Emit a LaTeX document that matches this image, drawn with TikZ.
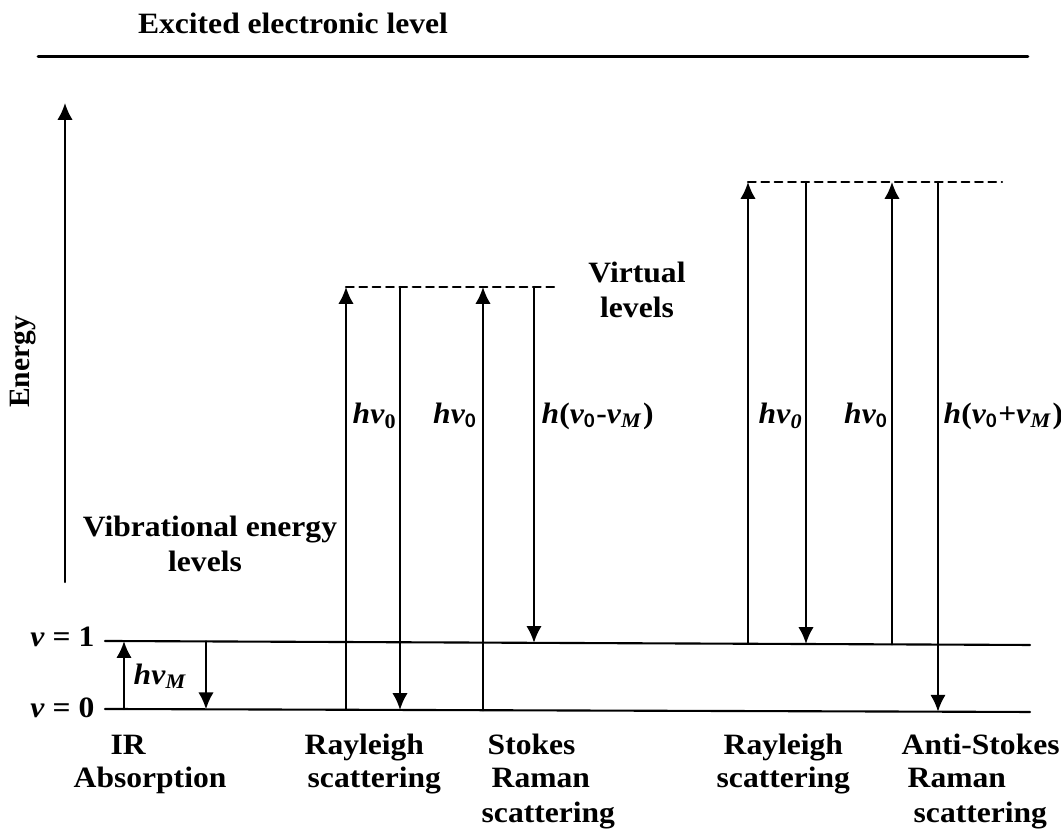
\documentclass[tikz,border=0pt]{standalone}
\usepackage{fontspec}
\setmainfont{Liberation Serif}[FakeStretch=1.07]
\newfontfamily\plainserif{Liberation Serif}
\newfontfamily\zerofont{Carlito}
\usepackage{tikz}
\usetikzlibrary{arrows.meta}
\usepackage{tkz-euclide}

\newcommand{\zsub}{\textsubscript{\zerofont\bfseries 0}}
\newcommand{\hv}{\textit{hv}}

\tikzset{
  vlevel/.style={line width=0.6pt},
  photon/.style={line width=0.65pt, -{Latex[length=4.8pt,width=4.4pt]}},
  virtual/.style={line width=0.6pt, dash pattern=on 2.2pt off 1.6pt},
  lbl/.style={font=\fontsize{8.4}{9.96}\selectfont\bfseries, inner sep=0pt},
}

\begin{document}
\begin{tikzpicture}
                \useasboundingbox (0,0) rectangle (10.61,8.32);
                \tkzDefPoints{0.38/7.75/T_a, 10.28/7.75/T_b, 0.65/2.50/E_a, 0.65/7.29/E_b}
                \tkzDefPoints{1.05/1.91/U_a, 10.30/1.87/U_b, 1.05/1.23/Z_a, 10.30/1.20/Z_b}
                \tkzDefPoints{3.46/5.45/V_a, 5.55/5.45/V_b, 7.48/6.50/W_a, 10.02/6.50/W_b}
                \tkzDefPoints{1.24/1.229/IR_a, 1.24/1.909/IR_b, 2.06/1.906/IR_c, 2.06/1.227/IR_d}
                \tkzDefPoints{3.46/1.222/RL_a, 4.00/5.45/RL_c, 4.00/1.220/RL_d}
                \tkzDefPoints{4.83/1.218/SR_a, 4.83/5.45/SR_b, 5.34/5.45/SR_c, 5.34/1.891/SR_d}
                \tkzDefPoints{7.48/1.882/RR_a, 8.06/6.50/RR_c, 8.06/1.880/RR_d}
                \tkzDefPoints{8.92/1.876/AS_a, 8.92/6.50/AS_b, 9.38/6.50/AS_c, 9.38/1.203/AS_d}
                \tkzDrawSegments[line width=0.85pt](T_a,T_b)
                \tkzDrawSegments[vlevel](U_a,U_b Z_a,Z_b)
                \tkzDrawSegments[virtual](V_a,V_b W_a,W_b)
                \tkzDrawSegments[photon](E_a,E_b IR_a,IR_b IR_c,IR_d RL_a,V_a RL_c,RL_d)
                \tkzDrawSegments[photon](SR_a,SR_b SR_c,SR_d RR_a,W_a RR_c,RR_d AS_a,AS_b AS_c,AS_d)
                \node[lbl, anchor=base] (title) at (2.93,7.98) {Excited electronic level};
                \node[lbl, rotate=90, font=\fontsize{8.4}{9.96}\plainserif\bfseries] (energy) at (0.23,4.70) {Energy};
                \node[lbl, anchor=base] (virt_a) at (6.37,5.49) {Virtual};
                \node[lbl, anchor=base] (virt_b) at (6.37,5.14) {levels};
                \node[lbl, anchor=base] (vib_a) at (2.10,2.95) {Vibrational energy};
                \node[lbl, anchor=base] (vib_b) at (2.05,2.60) {levels};
                \node[lbl, anchor=east] (vone) at (0.95,1.95) {\textit{v} = 1};
                \node[lbl, anchor=east] (vzero) at (0.95,1.24) {\textit{v} = 0};
                \node[lbl, anchor=west] (hvm) at (1.33,1.56) {\hv\textsubscript{\textit{M}}};
                \node[lbl, anchor=base west] (hvz_a) at (3.52,4.08) {\hv\textsubscript{0}};
                \node[lbl, anchor=base east] (hvz_b) at (4.78,4.08) {\hv\zsub};
                \node[lbl, anchor=base west] (stokes) at (5.41,4.08) {\textit{h}(\textit{v}\zsub-\textit{v}\textsubscript{\textit{M}})};
                \node[lbl, anchor=base west] (hvz_c) at (7.58,4.08) {\hv\textsubscript{\textit{0}}};
                \node[lbl, anchor=base east] (hvz_d) at (8.89,4.08) {\hv\zsub};
                \node[lbl, anchor=base west] (anti) at (9.43,4.08) {\textit{h}(\textit{v}\zsub+\textit{v}\textsubscript{\textit{M}})};
                \node[lbl, anchor=base west] (ir_a) at (1.10,0.77) {IR};
                \node[lbl, anchor=base west] (ir_b) at (0.73,0.44) {Absorption};
                \node[lbl, anchor=base west] (rl_a) at (3.04,0.77) {Rayleigh};
                \node[lbl, anchor=base west] (rl_b) at (3.07,0.44) {scattering};
                \node[lbl, anchor=base west] (sr_a) at (4.87,0.77) {Stokes};
                \node[lbl, anchor=base west] (sr_b) at (4.91,0.44) {Raman};
                \node[lbl, anchor=base west] (sr_c) at (4.81,0.09) {scattering};
                \node[lbl, anchor=base west] (rr_a) at (7.23,0.77) {Rayleigh};
                \node[lbl, anchor=base west] (rr_b) at (7.16,0.44) {scattering};
                \node[lbl, anchor=base west] (as_a) at (9.01,0.77) {Anti-Stokes};
                \node[lbl, anchor=base west] (as_b) at (9.07,0.44) {Raman};
                \node[lbl, anchor=base west] (as_c) at (9.13,0.09) {scattering};
            \end{tikzpicture}
\end{document}
